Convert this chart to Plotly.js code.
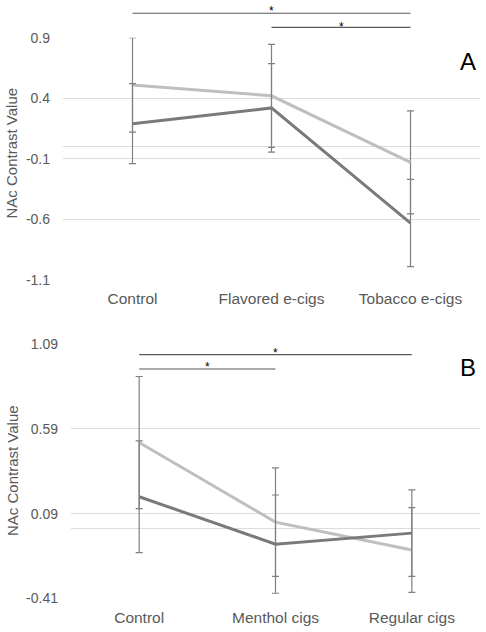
<!DOCTYPE html>
<html>
<head>
<meta charset="utf-8">
<script src="https://cdn.plot.ly/plotly-3.0.1.min.js"></script>
<style>html,body{margin:0;padding:0;background:#fff;}#chart{width:486px;height:632px;}</style>
</head>
<body>
<div id="chart"></div>
<script>
// Panel A data
var catsA = ['Control', 'Flavored e-cigs', 'Tobacco e-cigs'];
var lightA = [0.51, 0.42, -0.13];
var lightErrA = [0.39, 0.425, 0.425];
var darkA = [0.19, 0.32, -0.63];
var darkErrA = [0.33, 0.365, 0.36];
var ticksA = [0.9, 0.4, -0.1, -0.6, -1.1];
var sigA = [['Control', 'Tobacco e-cigs'], ['Flavored e-cigs', 'Tobacco e-cigs']];

// Panel B data
var catsB = ['Control', 'Menthol cigs', 'Regular cigs'];
var lightB = [0.51, 0.04, -0.125];
var lightErrB = [0.39, 0.32, 0.25];
var darkB = [0.19, -0.09, -0.025];
var darkErrB = [0.33, 0.29, 0.255];
var ticksB = [1.09, 0.59, 0.09, -0.41];
var sigB = [['Control', 'Regular cigs'], ['Control', 'Menthol cigs']];

var yTitle = 'NAc Contrast Value';
var panelLabels = ['A', 'B'];

var LIGHT = '#bfbfbf', DARK = '#7a7a7a', ERR = '#7f7f7f', TXT = '#595959', GRID = '#dcdcdc';
var FONT = 'Liberation Sans, Arial, sans-serif';

function series(x, y, err, color, xa, ya) {
  return {
    type: 'scatter', mode: 'lines', x: x, y: y, xaxis: xa, yaxis: ya,
    line: {color: color, width: 3},
    error_y: {type: 'data', array: err, visible: true, color: ERR, thickness: 1.2, width: 3.5},
    hoverinfo: 'skip', showlegend: false, cliponaxis: false
  };
}

var data = [
  series(catsA, lightA, lightErrA, LIGHT, 'x', 'y'),
  series(catsA, darkA, darkErrA, DARK, 'x', 'y'),
  series(catsB, lightB, lightErrB, LIGHT, 'x2', 'y2'),
  series(catsB, darkB, darkErrB, DARK, 'x2', 'y2')
];

function xaxis(cats, domain, anchor) {
  return {
    domain: domain, anchor: anchor, type: 'category', categoryarray: cats,
    range: [-0.5, 2.5], showgrid: false, zeroline: false, showline: false, ticks: '',
    ticklabelstandoff: 8, tickfont: {size: 15.5, color: TXT, family: FONT}, fixedrange: true
  };
}
function yaxis(ticks, range, domain, anchor) {
  return {
    domain: domain, anchor: anchor, range: range, tickvals: ticks,
    ticktext: ticks.map(function (v) { return String(v); }),
    showgrid: true, gridcolor: GRID, gridwidth: 1,
    zeroline: true, zerolinecolor: GRID, zerolinewidth: 1,
    showline: false, ticks: '', ticklabelstandoff: 12,
    tickfont: {size: 14, color: TXT, family: FONT}, fixedrange: true
  };
}

var shapes = [], annotations = [];
function sig(pairs, xref, lineYs) {
  pairs.forEach(function (p, i) {
    shapes.push({type: 'line', xref: xref, yref: 'paper', x0: p[0], x1: p[1], y0: lineYs[i], y1: lineYs[i],
      line: {color: '#595959', width: 1.2}});
  });
}
sig(sigA, 'x', [0.979, 0.9568]);
sig(sigB, 'x2', [0.4388, 0.4161]);

function star(xref, x, y) {
  annotations.push({xref: xref, yref: 'paper', x: x, y: y, text: '*', showarrow: false,
    font: {size: 12, color: '#000', family: FONT}, xanchor: 'center', yanchor: 'middle'});
}
star('x', 1, 0.982);
star('x', 1.5, 0.958);
star('x2', 1, 0.442);
star('x2', 0.5, 0.420);

annotations.push({xref: 'paper', yref: 'paper', x: 0.963, y: 0.9019, text: panelLabels[0], showarrow: false,
  font: {size: 24, color: '#000', family: FONT}, xanchor: 'center', yanchor: 'middle'});
annotations.push({xref: 'paper', yref: 'paper', x: 0.963, y: 0.4193, text: panelLabels[1], showarrow: false,
  font: {size: 24, color: '#000', family: FONT}, xanchor: 'center', yanchor: 'middle'});
annotations.push({xref: 'paper', yref: 'paper', x: 0.0247, y: 0.7571, text: yTitle, textangle: -90, showarrow: false,
  font: {size: 15, color: TXT, family: FONT}, xanchor: 'center', yanchor: 'middle'});
annotations.push({xref: 'paper', yref: 'paper', x: 0.0247, y: 0.2547, text: yTitle, textangle: -90, showarrow: false,
  font: {size: 15, color: TXT, family: FONT}, xanchor: 'center', yanchor: 'middle'});

var layout = {
  width: 486, height: 632, margin: {l: 0, r: 0, t: 0, b: 0},
  paper_bgcolor: '#fff', plot_bgcolor: '#fff', showlegend: false,
  font: {family: FONT, color: TXT},
  xaxis: xaxis(catsA, [0.12963, 0.98765], 'y'),
  yaxis: yaxis(ticksA, [-1.1, 0.9], [0.5570, 0.9404], 'x'),
  xaxis2: xaxis(catsB, [0.14609, 0.98765], 'y2'),
  yaxis2: yaxis(ticksB, [-0.41, 1.09], [0.0533, 0.4552], 'x2'),
  shapes: shapes, annotations: annotations
};

Plotly.newPlot('chart', data, layout, {displayModeBar: false, staticPlot: true});
</script>
</body>
</html>
